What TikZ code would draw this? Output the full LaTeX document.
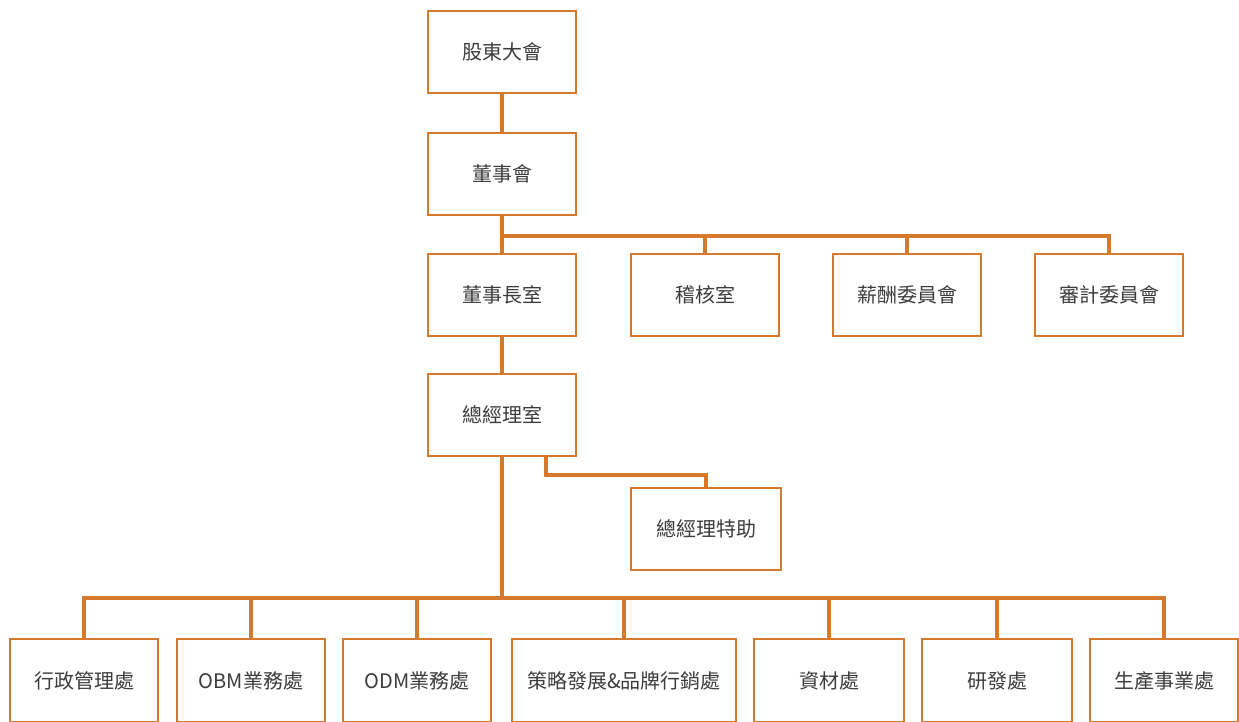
\documentclass[tikz,border=0pt]{standalone}
\usepackage{fontspec}
\setmainfont{Noto Sans CJK TC}
\definecolor{orgline}{HTML}{D57A2C}
\definecolor{orgtext}{HTML}{3C3C3C}
\tikzset{
  unit/.style={draw=orgline, line width=2pt, fill=white, text=orgtext,
    minimum width=148pt, minimum height=82pt, inner sep=0pt,
    font=\fontsize{20}{22}\selectfont},
  link/.style={draw=orgline, line width=4.5pt}
}
\begin{document}
\begin{tikzpicture}[x=1pt, y=-1pt]
    \useasboundingbox (0,0) rectangle (1239,722);

    \node[unit] (holders) at (502,52) {股東大會};
    \node[unit] (board) at (502,174) {董事會};

    \node[unit] (chair) at (502,295) {董事長室};
    \node[unit] (audit) at (705,295) {稽核室};
    \node[unit] (pay) at (907,295) {薪酬委員會};
    \node[unit] (auditcom) at (1109,295) {審計委員會};

    \node[unit] (gm) at (502,415) {總經理室};
    \node[unit, minimum width=150pt] (aide) at (706,529) {總經理特助};

    \node[unit, minimum height=83pt] (admin) at (84,680.5) {行政管理處};
    \node[unit, minimum height=83pt] (obm) at (251,680.5) {OBM業務處};
    \node[unit, minimum height=83pt] (odm) at (417,680.5) {ODM業務處};
    \node[unit, minimum height=83pt, minimum width=224pt] (brand) at (624,680.5) {策略發展\&品牌行銷處};
    \node[unit, minimum height=83pt, minimum width=150pt] (supply) at (829,680.5) {資材處};
    \node[unit, minimum height=83pt, minimum width=150pt] (rnd) at (997,680.5) {研發處};
    \node[unit, minimum height=83pt] (prod) at (1164,680.5) {生產事業處};

    \coordinate (topbus) at (502,236);
    \coordinate (lowbus) at (502,598);

    \draw[link] (holders) -- (board);
    \draw[link] (board) -- (chair);
    \draw[link] (topbus) -| (audit);
    \draw[link] (topbus) -| (pay);
    \draw[link] (topbus) -| (auditcom);
    \draw[link] (chair) -- (gm);
    \draw[link] ([xshift=44pt]gm.south) -- ++(0,18) -| (aide);
    \draw[link] (gm) -- (lowbus);
    \draw[link] (lowbus) -| (admin);
    \draw[link] (lowbus) -| (obm);
    \draw[link] (lowbus) -| (odm);
    \draw[link] (lowbus) -| (brand);
    \draw[link] (lowbus) -| (supply);
    \draw[link] (lowbus) -| (rnd);
    \draw[link] (lowbus) -| (prod);
\end{tikzpicture}
\end{document}
